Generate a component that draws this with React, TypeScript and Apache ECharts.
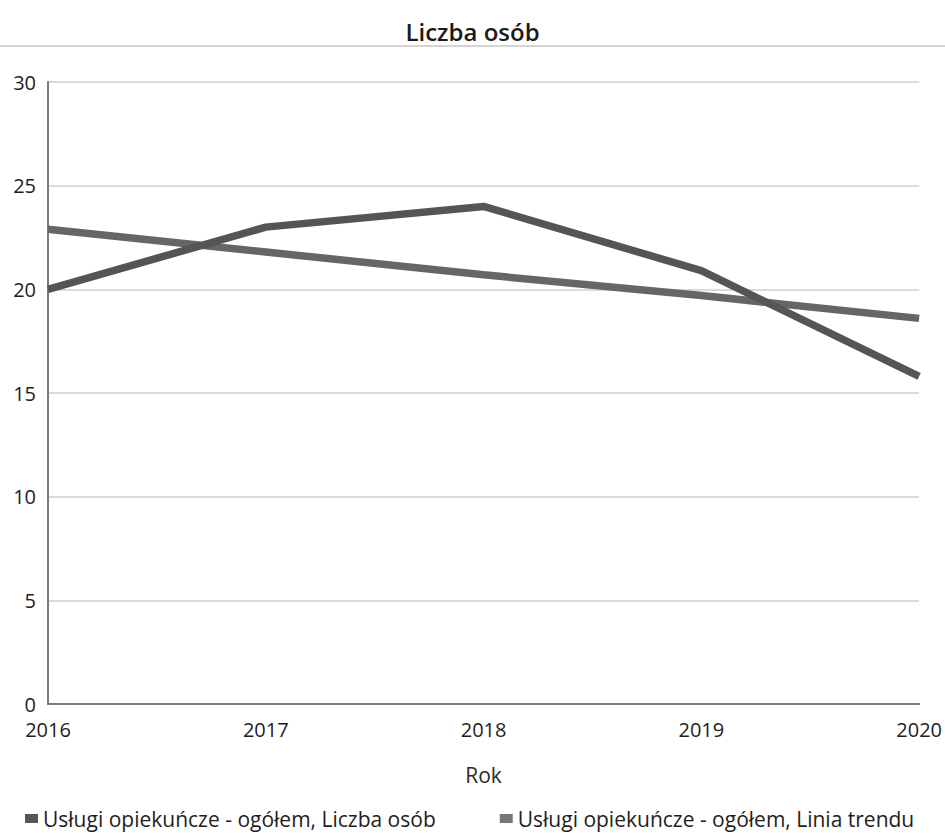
import React, { useEffect, useRef } from "react";
import * as echarts from "echarts";

const years = ["2016", "2017", "2018", "2019", "2020"];
const liczbaOsob = [20.0, 23.0, 24.0, 20.9, 15.8];
const liniaTrendu = [22.9, 21.8, 20.7, 19.7, 18.6];
const seriesNames = [
  "Usługi opiekuńcze - ogółem, Liczba osób",
  "Usługi opiekuńcze - ogółem, Linia trendu",
];

const FONT = "'Open Sans', 'Noto Sans', sans-serif";

export default function App() {
  const ref = useRef<HTMLDivElement>(null);
  useEffect(() => {
    if (!ref.current) return;
    const chart = echarts.init(ref.current, null, { renderer: "svg" });
    chart.setOption({
      animation: false,
      backgroundColor: "#ffffff",
      title: {
        text: "Liczba osób",
        left: "center",
        top: 14,
        textStyle: { fontFamily: FONT, fontSize: 24, fontWeight: 600, color: "#1a1a1a" },
      },
      graphic: [
        {
          type: "line",
          shape: { x1: 0, y1: 46, x2: 945, y2: 46 },
          style: { stroke: "#d4d4d4", lineWidth: 2 },
        },
      ],
      grid: { left: 48, right: 23, top: 82, bottom: 129, containLabel: false },
      xAxis: {
        type: "category",
        data: years,
        boundaryGap: false,
        name: "Rok",
        nameLocation: "middle",
        nameGap: 60,
        nameTextStyle: { fontFamily: FONT, fontSize: 21, color: "#2a2a2a" },
        axisLine: { lineStyle: { color: "#7a7a7a", width: 2 } },
        axisTick: { show: false },
        axisLabel: {
          fontFamily: FONT,
          fontSize: 20,
          color: "#1e1e1e",
          margin: 15,
          showMinLabel: true,
          showMaxLabel: true,
        },
        splitLine: { show: false },
      },
      yAxis: {
        type: "value",
        min: 0,
        max: 30,
        interval: 5,
        axisLine: { show: true, lineStyle: { color: "#7a7a7a", width: 2 } },
        axisTick: { show: false },
        axisLabel: { fontFamily: FONT, fontSize: 20, color: "#1e1e1e", margin: 12 },
        splitLine: { lineStyle: { color: "#cfcfcf", width: 1.5 } },
      },
      legend: {
        top: 803,
        left: 20,
        itemGap: 64,
        itemWidth: 13,
        itemHeight: 9,
        icon: "rect",
        textStyle: { fontFamily: FONT, fontSize: 21, color: "#1e1e1e" },
        data: seriesNames,
      },
      series: [
        {
          name: seriesNames[0],
          type: "line",
          data: liczbaOsob,
          symbol: "none",
          lineStyle: { color: "#555555", width: 7.5 },
          itemStyle: { color: "#555555" },
          z: 3,
        },
        {
          name: seriesNames[1],
          type: "line",
          data: liniaTrendu,
          symbol: "none",
          lineStyle: { color: "#666666", width: 7.5 },
          itemStyle: { color: "#777777" },
          z: 2,
        },
      ],
    });
    return () => chart.dispose();
  }, []);
  return (
    <div
      ref={ref}
      style={{ position: "fixed", left: 0, top: 0, width: 945, height: 833, overflow: "hidden" }}
    />
  );
}
